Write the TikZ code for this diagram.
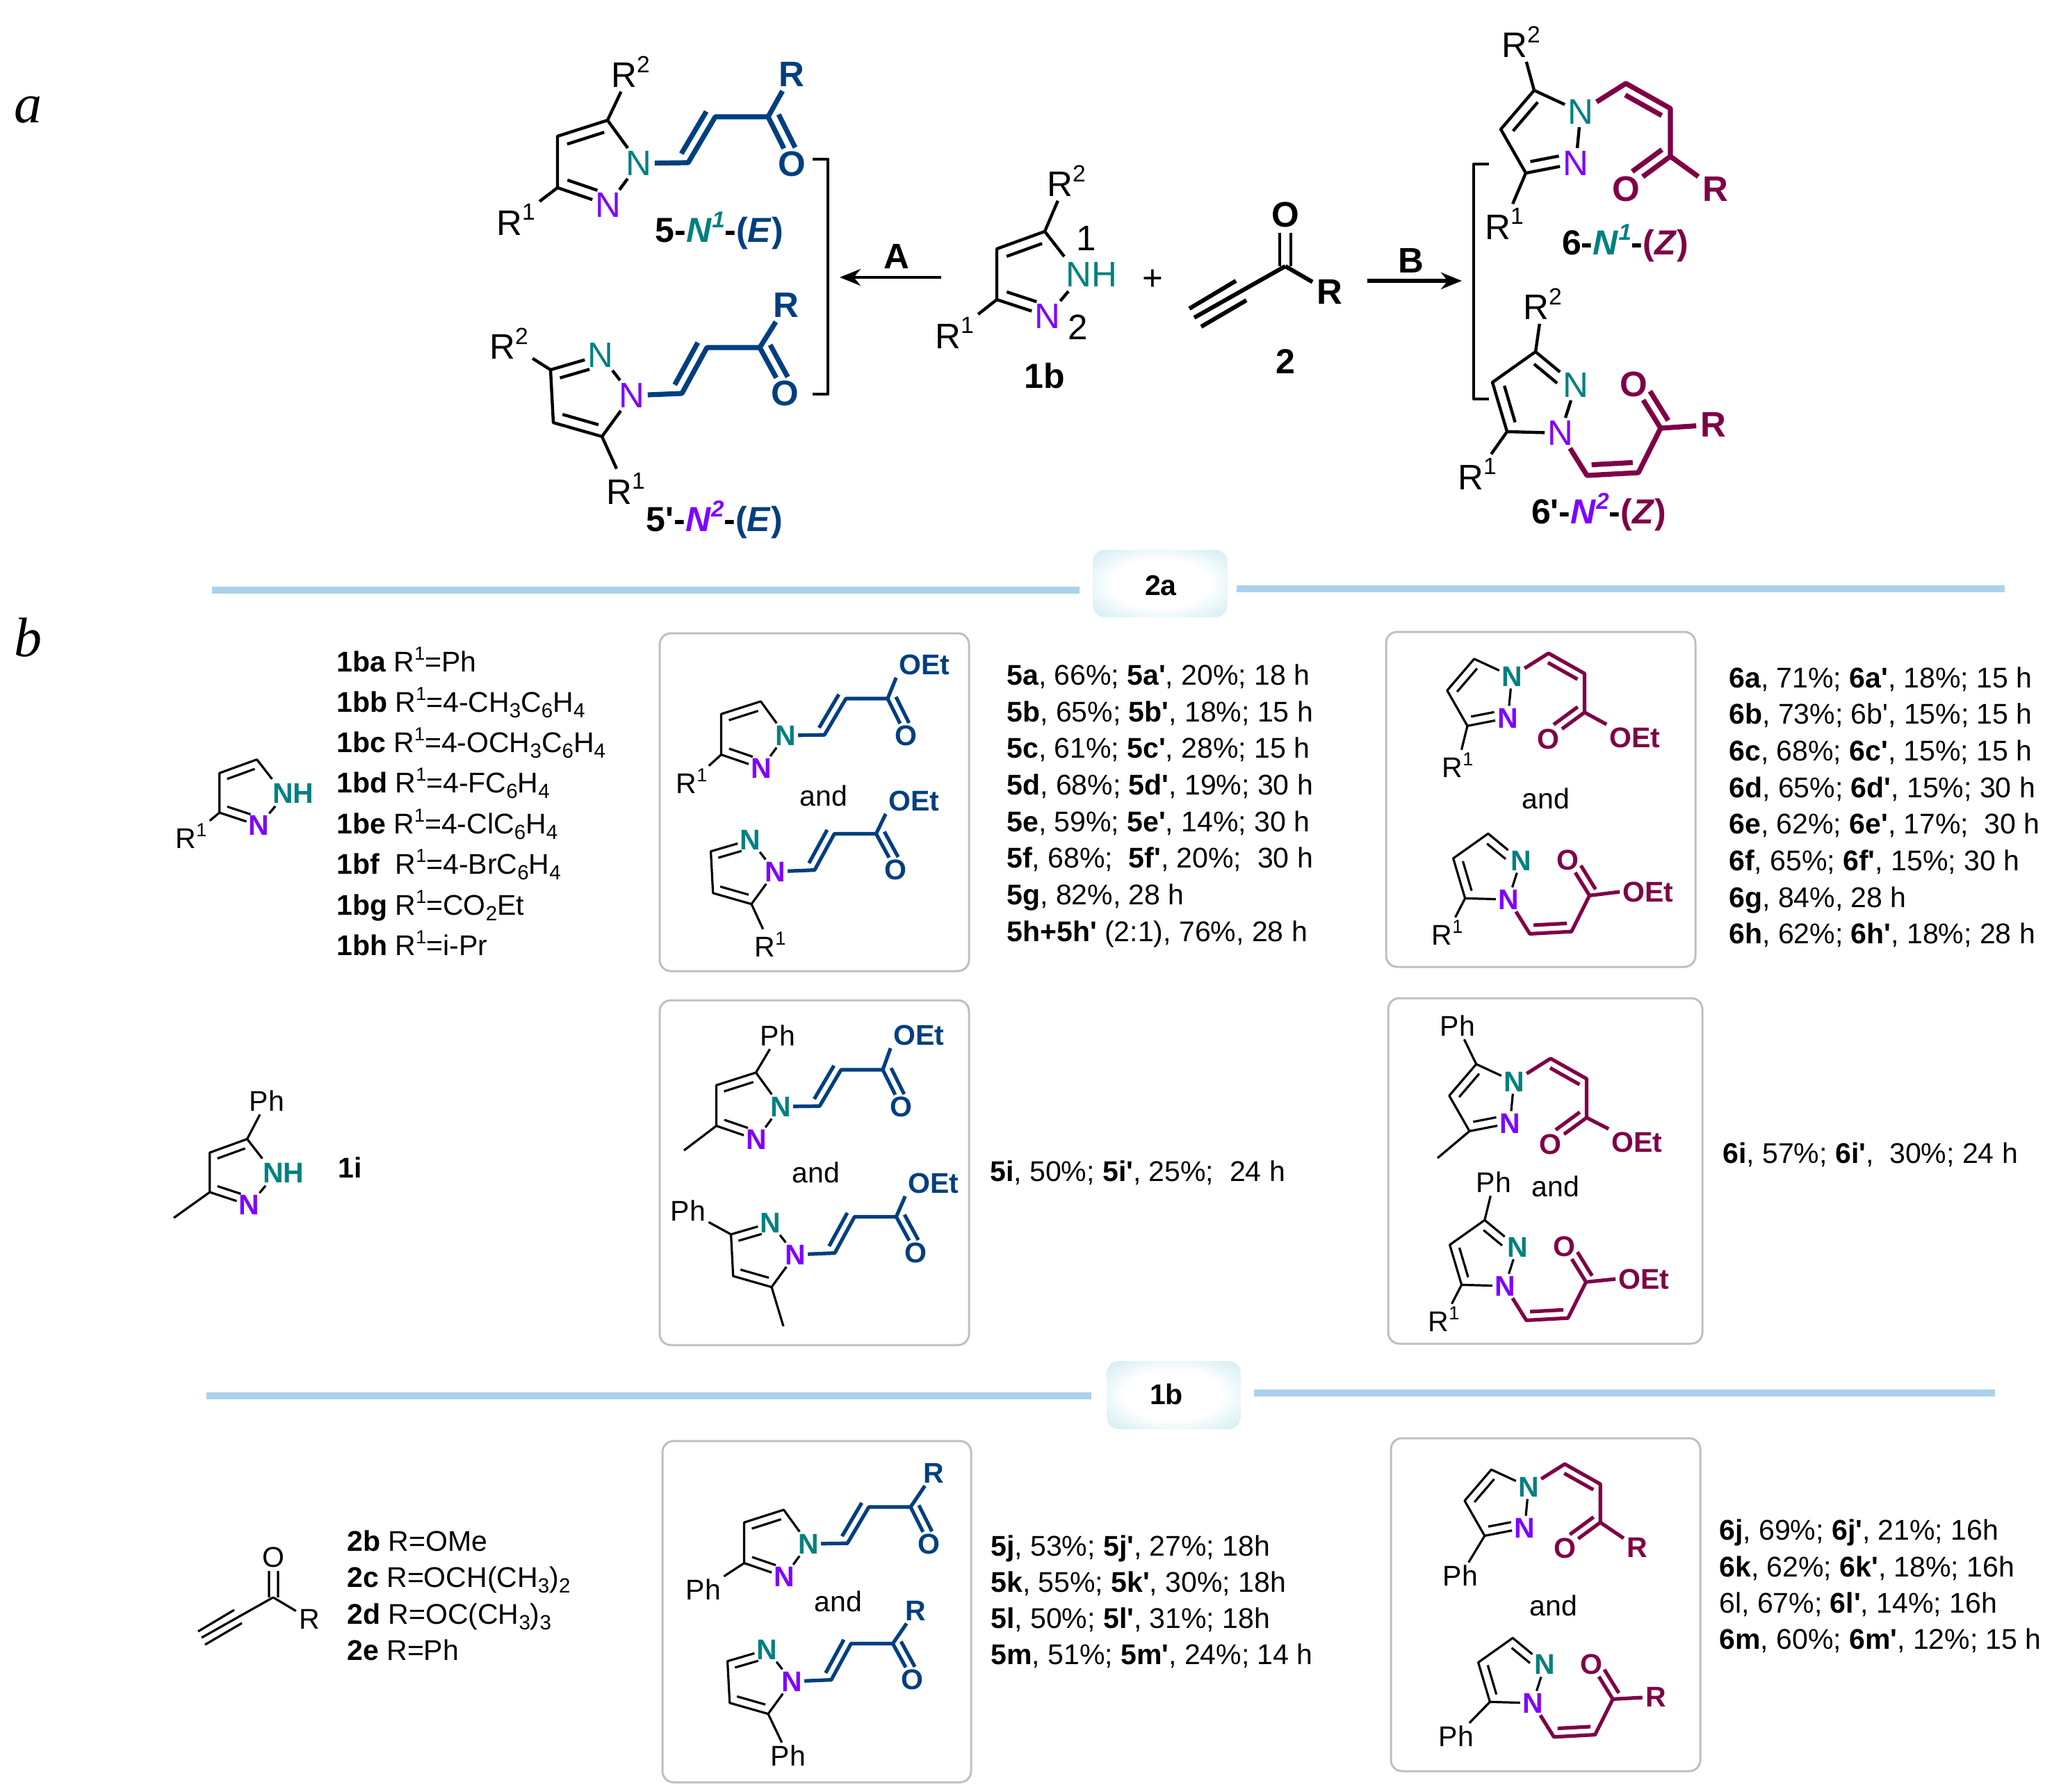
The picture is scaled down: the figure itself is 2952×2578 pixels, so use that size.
\documentclass[tikz,border=0pt]{standalone}
\usepackage{fontspec}
\newfontfamily\mff{Liberation Sans}
\newfontfamily\serifit{Liberation Serif}
\usetikzlibrary{calc,arrows.meta}
\definecolor{cteal}{HTML}{008080}
\definecolor{cpurp}{HTML}{7F00FF}
\definecolor{cblue}{HTML}{003F7F}
\definecolor{cmar}{HTML}{7F0046}
\definecolor{crule}{HTML}{ABD1EC}
\definecolor{cbox}{HTML}{BFBFBF}
\definecolor{cpale}{HTML}{D0ECF2}
\pgfdeclareradialshading{softbox}{\pgfpoint{0bp}{0bp}}{color(0bp)=(white); color(18bp)=(white); color(35bp)=(cpale); color(80bp)=(cpale)}
\newcommand\fsz[1]{\mff\fontsize{#1}{#1}\selectfont}
\newcommand\up[1]{\raisebox{.42em}{\edef\tmpz{\the\dimexpr.66em\relax}\fontsize{\tmpz}{\tmpz}\selectfont #1}}
\newcommand\dn[1]{\raisebox{-.2em}{\edef\tmpz{\the\dimexpr.72em\relax}\fontsize{\tmpz}{\tmpz}\selectfont #1}}
\newcommand\B[1]{\textbf{#1}}
\tikzset{
 bondt/.style={line width=2.2pt,line join=round,draw=black},
 bondb/.style={line width=1.6pt,line join=round,draw=black},
 chainblt/.style={line width=3.6pt,line join=round,draw=cblue},
 chainblb/.style={line width=2.6pt,line join=round,draw=cblue},
 chainmat/.style={line width=3.6pt,line join=round,draw=cmar},
 chainmab/.style={line width=2.6pt,line join=round,draw=cmar},
 atomt/.style={inner sep=2pt,font=\fsz{25.5pt}},
 atomb/.style={inner sep=1.5pt,font=\fsz{20.5pt}\bfseries},
 labt/.style={inner sep=3pt,font=\fsz{25.5pt}},
 labs/.style={inner sep=3pt,font=\fsz{25.5pt}\bfseries},
 labb/.style={inner sep=2pt,font=\fsz{20.5pt}},
 labbf/.style={inner sep=2pt,font=\fsz{20.5pt}\bfseries},
 cmp/.style={inner sep=0pt,font=\fsz{25pt}},
 tb/.style={inner sep=0pt,anchor=west,text height=14.7pt,text depth=0pt,font=\fsz{20.5pt}},
 andl/.style={inner sep=0pt,font=\fsz{20.5pt}},
 panel/.style={inner sep=0pt,font=\serifit\itshape\fontsize{40pt}{40pt}\selectfont},
 frame/.style={draw=cbox,line width=1.5pt,rounded corners=8pt},
 rulel/.style={draw=crule,line width=5pt},
 tagbox/.style={rounded corners=9pt,shading=softbox},
 arr/.style={line width=2.2pt,-{Stealth[length=15pt,width=12pt]}}
}
% inner bond line on the visual left of travel a->b
\newcommand\inn[5]{\draw[#1] ($(#2)!#4!(#3)!\dbd!90:(#3)$) -- ($(#3)!#5!(#2)!\dbd!-90:(#2)$);}
% 5-type, attached N teal
\newcommand\fiveA[5]{\begin{scope}[shift={(#2,#3)},x=#4pt,y=-#4pt]\def\dbd{#4*15pt}
 \coordinate (#1c5) at (-45,-62);\coordinate (#1c4) at (-117,-39);\coordinate (#1c3) at (-117,35);
 \node[atom#5,text=cteal] (#1n1) at (0,0) {N};
 \node[atom#5,text=cpurp] (#1n2) at (-44,60) {N};
 \draw[bond#5] (#1n1)--(#1c5)--(#1c4)--(#1c3)--(#1n2) (#1n2)--(#1n1);
 \inn{bond#5}{#1c5}{#1c4}{.13}{.13}\inn{bond#5}{#1c3}{#1n2}{.13}{.28}
 \coordinate (#1a) at (71,-1);\coordinate (#1b) at (110,-67);\coordinate (#1c) at (186,-67);
 \node[atom#5,text=cblue,font=\fsz{\ofs}\bfseries] (#1o) at (220,1) {O};
 \draw[chainbl#5] (#1n1)--(#1a)--(#1b)--(#1c)--(#1o);
 \inn{chainbl#5}{#1a}{#1b}{.08}{.0}\inn{chainbl#5}{#1c}{#1o}{.05}{.25}
\end{scope}}
% 5'-type, attached N purple
\newcommand\fiveB[5]{\begin{scope}[shift={(#2,#3)},x=#4pt,y=-#4pt]\def\dbd{#4*15pt}
 \coordinate (#1c5) at (-43,59);\coordinate (#1c4) at (-113,39);\coordinate (#1c3) at (-117,-37);
 \node[atom#5,text=cpurp] (#1n1) at (0,0) {N};
 \node[atom#5,text=cteal] (#1n2) at (-45,-58) {N};
 \draw[bond#5] (#1n1)--(#1c5)--(#1c4)--(#1c3)--(#1n2) (#1n2)--(#1n1);
 \inn{bond#5}{#1c4}{#1c5}{.13}{.13}\inn{bond#5}{#1n2}{#1c3}{.28}{.13}
 \coordinate (#1a) at (72,-3);\coordinate (#1b) at (108,-69);\coordinate (#1c) at (184,-69);
 \node[atom#5,text=cblue,font=\fsz{\ofs}\bfseries] (#1o) at (220,-3) {O};
 \draw[chainbl#5] (#1n1)--(#1a)--(#1b)--(#1c)--(#1o);
 \inn{chainbl#5}{#1a}{#1b}{.08}{.0}\inn{chainbl#5}{#1c}{#1o}{.05}{.25}
\end{scope}}
% 6-type, attached N teal
\newcommand\sixA[5]{\begin{scope}[shift={(#2,#3)},x=#4pt,y=-#4pt]\def\dbd{#4*15pt}
 \coordinate (#1c5) at (-67,-31);\coordinate (#1c4) at (-115,25);\coordinate (#1c3) at (-79,88);
 \node[atom#5,text=cteal] (#1n1) at (0,0) {N};
 \node[atom#5,text=cpurp] (#1n2) at (-7,74) {N};
 \draw[bond#5] (#1n1)--(#1c5)--(#1c4)--(#1c3)--(#1n2) (#1n2)--(#1n1);
 \inn{bond#5}{#1c5}{#1c4}{.13}{.13}\inn{bond#5}{#1c3}{#1n2}{.13}{.3}
 \coordinate (#1a) at (65,-41);\coordinate (#1b) at (129,-5);\coordinate (#1c) at (129,64);
 \node[atom#5,text=cmar,font=\fsz{\ofs}\bfseries] (#1o) at (65,111) {O};
 \draw[chainma#5] (#1n1)--(#1a)--(#1b)--(#1c)--(#1o);
 \inn{chainma#5}{#1b}{#1a}{.08}{.1}\inn{chainma#5}{#1o}{#1c}{.28}{.05}
\end{scope}}
% 6'-type, attached N purple
\newcommand\sixB[5]{\begin{scope}[shift={(#2,#3)},x=#4pt,y=-#4pt]\def\dbd{#4*15pt}
 \coordinate (#1c5) at (-77,-2);\coordinate (#1c4) at (-98,-73);\coordinate (#1c3) at (-36,-117);
 \node[atom#5,text=cpurp] (#1n1) at (0,0) {N};
 \node[atom#5,text=cteal] (#1n2) at (22,-69) {N};
 \draw[bond#5] (#1n1)--(#1c5)--(#1c4)--(#1c3)--(#1n2) (#1n2)--(#1n1);
 \inn{bond#5}{#1c4}{#1c5}{.13}{.13}\inn{bond#5}{#1n2}{#1c3}{.3}{.13}
 \coordinate (#1a) at (38,61);\coordinate (#1b) at (112,57);\coordinate (#1c) at (144,-7);
 \node[atom#5,text=cmar,font=\fsz{\ofs}\bfseries] (#1o) at (105,-70) {O};
 \draw[chainma#5] (#1n1)--(#1a)--(#1b)--(#1c)--(#1o);
 \inn{chainma#5}{#1a}{#1b}{.1}{.1}\inn{chainma#5}{#1o}{#1c}{.28}{.05}
\end{scope}}
% free NH pyrazole
\newcommand\pzNH[5]{\begin{scope}[shift={(#2,#3)},x=#4pt,y=-#4pt]\def\dbd{#4*15pt}
 \coordinate (#1c5) at (-48,-62);\coordinate (#1c4) at (-117,-37);\coordinate (#1c3) at (-117,36);
 \node[atom#5,text=cteal] (#1n1) at (19,0) {NH};
 \node[atom#5,text=cpurp] (#1n2) at (-44,60) {N};
 \coordinate (#1t1) at (-20,-26);\coordinate (#1t2) at (-14,24);
 \draw[bond#5] (#1t1)--(#1c5)--(#1c4)--(#1c3)--(#1n2) (#1n2)--(#1t2);
 \inn{bond#5}{#1c5}{#1c4}{.13}{.13}\inn{bond#5}{#1c3}{#1n2}{.13}{.28}
\end{scope}}
\newcommand\Lt[5]{\node[labt] (#2) at (#3,#4) {#5}; \draw[bondt] (#1) -- (#2);}
\newcommand\Lb[5]{\node[labb] (#2) at (#3,#4) {#5}; \draw[bondb] (#1) -- (#2);}
\begin{document}
\begin{tikzpicture}[x=.5pt,y=-.5pt]
\useasboundingbox (0,0) rectangle (2952,2578);
\node[panel] (pa) at (40,158) {a};
\node[panel] (pb) at (40,917) {b};
% ---- top
\def\ofs{25.5pt}
\fiveA{A}{919}{235}{.5}{t}
\Lt{Ac3}{Ar1}{742}{316}{R\up{1}}
\Lt{Ac5}{Ar2}{907}{103}{R\up{2}}
\fiveB{Bb}{909}{569}{.5}{t}
\Lt{Bbc3}{Bbr2}{732}{494}{R\up{2}}
\Lt{Bbc5}{Bbr1}{900}{703}{R\up{1}}
\node[labs,text=cblue] (AR) at (1139,107) {R};
\draw[chainblt] (Ac) -- (AR);
\node[labs,text=cblue] (BbR) at (1131,439) {R};
\draw[chainblt] (Bbc) -- (BbR);
\node[cmp] (l5) at (1035,332) {\B{5-}\textcolor{cteal}{\B{\textit{N}\up{\textit{1}}}}\B{-}\textcolor{cblue}{\B{(\textit{E})}}};
\node[cmp] (l5p) at (1028,748) {\B{5'-}\textcolor{cpurp}{\B{\textit{N}\up{\textit{2}}}}\B{-}\textcolor{cblue}{\B{(\textit{E})}}};
\coordinate (bra1) at (1169,229);\coordinate (bra2) at (1191,229);\coordinate (bra3) at (1191,567);\coordinate (bra4) at (1169,567);
\draw[bondt] (bra1)--(bra2)--(bra3)--(bra4);
\coordinate (arA1) at (1354,399);\coordinate (arA2) at (1208,399);
\draw[arr] (arA1)--(arA2);
\node[labt,inner sep=0pt,font=\fsz{25.5pt}\bfseries] (lA) at (1290,369) {A};
\pzNH{C}{1551}{395}{.5}{t}
\Lt{Cc3}{Cr1}{1373}{479}{R\up{1}}
\Lt{Cc5}{Cr2}{1534}{260}{R\up{2}}
\node[labt,inner sep=0pt] (Cn1l) at (1563,343) {1};
\node[labt,inner sep=0pt] (Cn2l) at (1551,471) {2};
\node[cmp] (l1b) at (1503,541) {\B{1b}};
\node[labt,inner sep=0pt] (plus) at (1658,403) {+};
% alkynone 2
\coordinate (Dc) at (1849,383);
\node[labs] (Do) at (1849,309) {O};
\node[labs] (DR) at (1913,420) {R};
\coordinate (Dt1) at (1718,457);\coordinate (Du1) at (1778,404);\coordinate (Du2) at (1711,444);\coordinate (Dl1) at (1793,432);\coordinate (Dl2) at (1728,470);
\coordinate (Dd1) at (1841,383);\coordinate (Dd2) at (1841,335);\coordinate (Dd3) at (1857,383);\coordinate (Dd4) at (1857,335);
\draw[bondt,line width=3pt] (Dc)--(DR) (Dc)--(Dt1) (Du1)--(Du2) (Dl1)--(Dl2);
\draw[bondt] (Dd1)--(Dd2) (Dd3)--(Dd4);
\node[cmp] (l2) at (1849,520) {\B{2}};
\coordinate (arB1) at (1967,404);\coordinate (arB2) at (2103,404);
\draw[arr,line width=3pt] (arB1)--(arB2);
\node[labt,inner sep=0pt,font=\fsz{25.5pt}\bfseries] (lB) at (2030,375) {B};
\coordinate (brb1) at (2142,236);\coordinate (brb2) at (2120,236);\coordinate (brb3) at (2120,574);\coordinate (brb4) at (2142,574);
\draw[bondt] (brb1)--(brb2)--(brb3)--(brb4);
\sixA{E}{2274}{161}{.5}{t}
\Lt{Ec5}{Er2}{2188}{60}{R\up{2}}
\Lt{Ec3}{Er1}{2164}{322}{R\up{1}}
\node[labs,text=cmar] (ER) at (2468,272) {R};
\draw[chainmat] (Ec) -- (ER);
\node[cmp] (l6) at (2338,350) {\B{6-}\textcolor{cteal}{\B{\textit{N}\up{\textit{1}}}}\B{-}\textcolor{cmar}{\B{(\textit{Z})}}};
\sixB{F}{2245}{623}{.5}{t}
\Lt{Fc3}{Fr2}{2219}{437}{R\up{2}}
\Lt{Fc5}{Fr1}{2125}{682}{R\up{1}}
\node[labs,text=cmar] (FR) at (2465,611) {R};
\draw[chainmat] (Fc) -- (FR);
\node[cmp] (l6p) at (2300,737) {\B{6'-}\textcolor{cpurp}{\B{\textit{N}\up{\textit{2}}}}\B{-}\textcolor{cmar}{\B{(\textit{Z})}}};
% ---- rules
\coordinate (ru1) at (305,849);\coordinate (ru2) at (1553,849);\coordinate (ru3) at (1779,847);\coordinate (ru4) at (2884,847);
\coordinate (ru5) at (297,2008);\coordinate (ru6) at (1570,2008);\coordinate (ru7) at (1804,2004);\coordinate (ru8) at (2870,2004);
\draw[rulel] (ru1)--(ru2) (ru3)--(ru4) (ru5)--(ru6) (ru7)--(ru8);
\coordinate (tg1a) at (1572,791);\coordinate (tg1b) at (1766,888);\coordinate (tg2a) at (1592,1958);\coordinate (tg2b) at (1785,2056);
\shade[tagbox] (tg1a) rectangle (tg1b);
\shade[tagbox] (tg2a) rectangle (tg2b);
\node[andl] (t2a) at (1670,842) {\B{2a}};
\node[andl] (t1b) at (1678,2006) {\B{1b}};
% ---- frames
\coordinate (f1a) at (949,911);\coordinate (f1b) at (1394,1397);
\coordinate (f2a) at (949,1439);\coordinate (f2b) at (1394,1935);
\coordinate (f3a) at (953,2073);\coordinate (f3b) at (1397,2564);
\coordinate (f4a) at (1994,909);\coordinate (f4b) at (2439,1391);
\coordinate (f5a) at (1997,1436);\coordinate (f5b) at (2449,1933);
\coordinate (f6a) at (2001,2069);\coordinate (f6b) at (2446,2548);
\draw[frame] (f1a) rectangle (f1b) (f2a) rectangle (f2b) (f3a) rectangle (f3b) (f4a) rectangle (f4b) (f5a) rectangle (f5b) (f6a) rectangle (f6b);
\def\ofs{20.5pt}
% ---- row 1 left
\pzNH{G}{407}{1141}{.39}{b}
\Lb{Gc3}{Gr1}{275}{1203}{R\up{1}}
\node[tb] (q1) at (484,952) {\B{1ba} R\up{1}=Ph};
\node[tb] (q2) at (484,1010) {\B{1bb} R\up{1}=4-CH\dn{3}C\dn{6}H\dn{4}};
\node[tb] (q3) at (484,1068) {\B{1bc} R\up{1}=4-OCH\dn{3}C\dn{6}H\dn{4}};
\node[tb] (q4) at (484,1126) {\B{1bd} R\up{1}=4-FC\dn{6}H\dn{4}};
\node[tb] (q5) at (484,1185) {\B{1be} R\up{1}=4-ClC\dn{6}H\dn{4}};
\node[tb] (q6) at (484,1243) {\B{1bf}\ \ R\up{1}=4-BrC\dn{6}H\dn{4}};
\node[tb] (q7) at (484,1302) {\B{1bg} R\up{1}=CO\dn{2}Et};
\node[tb] (q8) at (484,1360) {\B{1bh} R\up{1}=i-Pr};
% 5a box
\fiveA{H}{1130}{1058}{.395}{b}
\Lb{Hc3}{Hr1}{995}{1124}{R\up{1}}
\node[labbf,text=cblue] (Hx) at (1330,956) {OEt};
\draw[chainblb] (Hc) -- (Hx.south west);
\node[andl] (and1) at (1185,1145) {and};
\fiveB{I}{1115}{1254}{.395}{b}
\Lb{Ic5}{Ir1}{1108}{1359}{R\up{1}}
\node[labbf,text=cblue] (Ix) at (1315,1152) {OEt};
\draw[chainblb] (Ic) -- (Ix.south west);
% 5 table
\node[tb] (a1) at (1448,971) {\B{5a}, 66\%; \B{5a'}, 20\%; 18 h};
\node[tb] (a2) at (1448,1024) {\B{5b}, 65\%; \B{5b'}, 18\%; 15 h};
\node[tb] (a3) at (1448,1076) {\B{5c}, 61\%; \B{5c'}, 28\%; 15 h};
\node[tb] (a4) at (1448,1129) {\B{5d}, 68\%; \B{5d'}, 19\%; 30 h};
\node[tb] (a5) at (1448,1182) {\B{5e}, 59\%; \B{5e'}, 14\%; 30 h};
\node[tb] (a6) at (1448,1234) {\B{5f}, 68\%;\ \ \B{5f'}, 20\%;\ \ 30 h};
\node[tb] (a7) at (1448,1287) {\B{5g}, 82\%, 28 h};
\node[tb] (a8) at (1448,1340) {\B{5h+5h'} (2:1), 76\%, 28 h};
% 6a box
\sixA{J}{2175}{973}{.405}{b}
\Lb{Jc3}{Jr1}{2097}{1101}{R\up{1}}
\node[labbf,text=cmar] (Jx) at (2352,1061) {OEt};
\draw[chainmab] (Jc) -- (Jx.north west);
\node[andl] (and2) at (2224,1149) {and};
\sixB{K}{2170}{1294}{.405}{b}
\Lb{Kc5}{Kr1}{2082}{1342}{R\up{1}}
\node[labbf,text=cmar] (Kx) at (2371,1283) {OEt};
\draw[chainmab] (Kc) -- (Kx.west);
% 6 table
\node[tb] (b1) at (2487,975) {\B{6a}, 71\%; \B{6a'}, 18\%; 15 h};
\node[tb] (b2) at (2487,1027) {\B{6b}, 73\%; 6b', 15\%; 15 h};
\node[tb] (b3) at (2487,1080) {\B{6c}, 68\%; \B{6c'}, 15\%; 15 h};
\node[tb] (b4) at (2487,1133) {\B{6d}, 65\%; \B{6d'}, 15\%; 30 h};
\node[tb] (b5) at (2487,1185) {\B{6e}, 62\%; \B{6e'}, 17\%;\ \ 30 h};
\node[tb] (b6) at (2487,1238) {\B{6f}, 65\%; \B{6f'}, 15\%; 30 h};
\node[tb] (b7) at (2487,1291) {\B{6g}, 84\%, 28 h};
\node[tb] (b8) at (2487,1343) {\B{6h}, 62\%; \B{6h'}, 18\%; 28 h};
% ---- row 2
\pzNH{L}{393}{1687}{.39}{b}
\Lb{Lc5}{Lp}{384}{1584}{Ph}
\coordinate (Lm) at (250,1752);
\draw[bondb] (Lc3)--(Lm);
\node[tb] (c1) at (486,1680) {\B{1i}};
\fiveA{M}{1123}{1592}{.395}{b}
\Lb{Mc5}{Mp}{1119}{1490}{Ph}
\coordinate (Mm) at (984,1655);
\draw[bondb] (Mc3)--(Mm);
\node[labbf,text=cblue] (Mx) at (1322,1489) {OEt};
\draw[chainblb] (Mc) -- (Mx.south west);
\node[andl] (and3) at (1174,1687) {and};
\fiveB{O}{1144}{1805}{.395}{b}
\Lb{Oc3}{Op}{990}{1742}{Ph}
\coordinate (Om) at (1127,1908);
\draw[bondb] (Oc5)--(Om);
\node[labbf,text=cblue] (Ox) at (1343,1702) {OEt};
\draw[chainblb] (Oc) -- (Ox.south west);
\node[tb] (c2) at (1424,1685) {\B{5i}, 50\%; \B{5i'}, 25\%;\ \ 24 h};
\sixA{P}{2178}{1556}{.405}{b}
\Lb{Pc5}{Pp}{2097}{1476}{Ph}
\coordinate (Pm) at (2068,1666);
\draw[bondb] (Pc3)--(Pm);
\node[labbf,text=cmar] (Px) at (2355,1643) {OEt};
\draw[chainmab] (Pc) -- (Px.north west);
\node[andl] (and4) at (2238,1707) {and};
\sixB{Q}{2165}{1850}{.405}{b}
\Lb{Qc3}{Qp}{2149}{1701}{Ph}
\Lb{Qc5}{Qr1}{2077}{1898}{R\up{1}}
\node[labbf,text=cmar] (Qx) at (2365,1840) {OEt};
\draw[chainmab] (Qc) -- (Qx.west);
\node[tb] (c3) at (2478,1659) {\B{6i}, 57\%; \B{6i'},\ \ 30\%; 24 h};
% ---- row 3
\coordinate (Sc) at (393,2298);
\node[labb] (So) at (393,2240) {O};
\node[labb] (SR) at (445,2329) {R};
\coordinate (St1) at (290,2356);\coordinate (Su1) at (337,2316);\coordinate (Su2) at (285,2347);\coordinate (Sl1) at (348,2335);\coordinate (Sl2) at (295,2366);
\coordinate (Sd1) at (387,2298);\coordinate (Sd2) at (387,2260);\coordinate (Sd3) at (400,2298);\coordinate (Sd4) at (400,2260);
\draw[bondb] (Sc)--(SR) (Sc)--(St1) (Su1)--(Su2) (Sl1)--(Sl2) (Sd1)--(Sd2) (Sd3)--(Sd4);
\node[tb] (d1) at (499,2217) {\B{2b} R=OMe};
\node[tb] (d2) at (499,2269) {\B{2c} R=OCH(CH\dn{3})\dn{2}};
\node[tb] (d3) at (499,2322) {\B{2d} R=OC(CH\dn{3})\dn{3}};
\node[tb] (d4) at (499,2374) {\B{2e} R=Ph};
\fiveA{T}{1163}{2221}{.395}{b}
\Lb{Tc3}{Tp}{1012}{2287}{Ph}
\node[labbf,text=cblue] (TR) at (1343,2119) {R};
\draw[chainblb] (Tc) -- (TR);
\node[andl] (and5) at (1206,2304) {and};
\fiveB{U}{1139}{2419}{.395}{b}
\Lb{Uc5}{Up}{1134}{2526}{Ph}
\node[labbf,text=cblue] (UR) at (1317,2317) {R};
\draw[chainblb] (Uc) -- (UR);
\node[tb] (e1) at (1425,2224) {\B{5j}, 53\%; \B{5j'}, 27\%; 18h};
\node[tb] (e2) at (1425,2276) {\B{5k}, 55\%; \B{5k'}, 30\%; 18h};
\node[tb] (e3) at (1425,2328) {\B{5l}, 50\%; \B{5l'}, 31\%; 18h};
\node[tb] (e4) at (1425,2380) {\B{5m}, 51\%; \B{5m'}, 24\%; 14 h};
\sixA{V}{2199}{2139}{.4}{b}
\Lb{Vc3}{Vp}{2101}{2267}{Ph}
\node[labbf,text=cmar] (VR) at (2355,2226) {R};
\draw[chainmab] (Vc) -- (VR);
\node[andl] (and6) at (2235,2310) {and};
\sixB{W}{2205}{2450}{.4}{b}
\Lb{Wc5}{Wp}{2095}{2498}{Ph}
\node[labbf,text=cmar] (WR) at (2382,2441) {R};
\draw[chainmab] (Wc) -- (WR);
\node[tb] (g1) at (2473,2201) {\B{6j}, 69\%; \B{6j'}, 21\%; 16h};
\node[tb] (g2) at (2473,2254) {\B{6k}, 62\%; \B{6k'}, 18\%; 16h};
\node[tb] (g3) at (2473,2306) {6l, 67\%; \B{6l'}, 14\%; 16h};
\node[tb] (g4) at (2473,2358) {\B{6m}, 60\%; \B{6m'}, 12\%; 15 h};
\end{tikzpicture}
\end{document}
